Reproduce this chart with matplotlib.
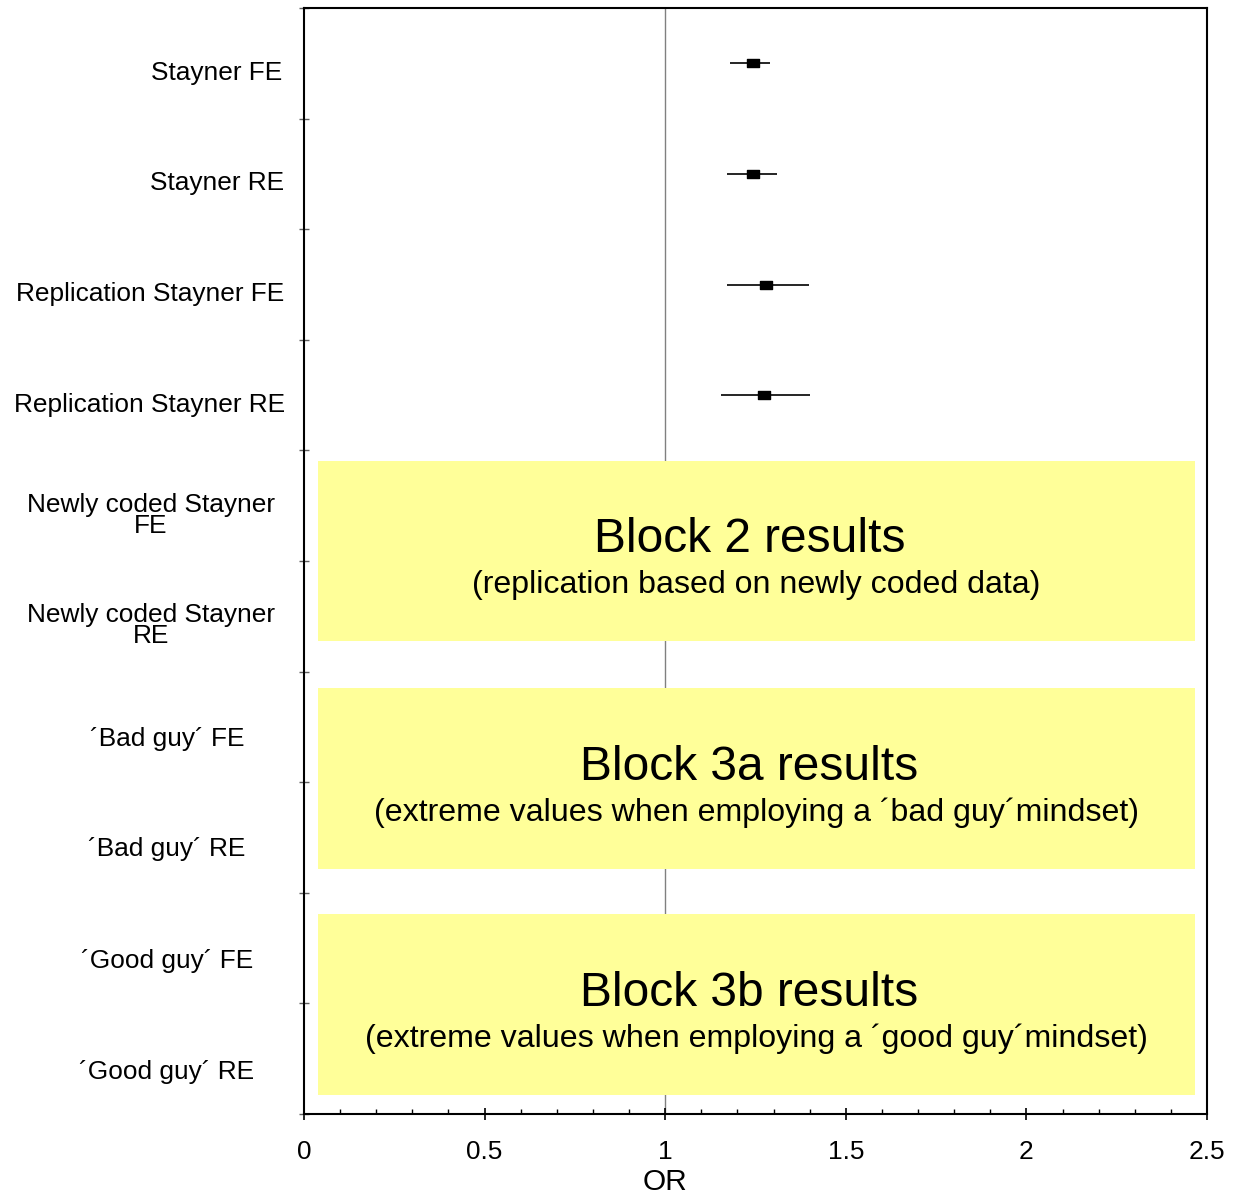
import matplotlib
matplotlib.use("Agg")
import matplotlib.pyplot as plt
from matplotlib.patches import Rectangle
from matplotlib.ticker import MultipleLocator
from matplotlib.path import Path

plt.rcParams['font.family'] = ['Liberation Sans', 'DejaVu Sans']

# ---- data ----
labels = ["Stayner FE", "Stayner RE", "Replication Stayner FE", "Replication Stayner RE",
          "Newly coded Stayner\nFE", "Newly coded Stayner\nRE",
          "\u00b4Bad guy\u00b4 FE", "\u00b4Bad guy\u00b4 RE",
          "\u00b4Good guy\u00b4 FE", "\u00b4Good guy\u00b4 RE"]
or_est = [1.242, 1.242, 1.279, 1.274]
ci_low = [1.179, 1.172, 1.172, 1.154]
ci_high = [1.290, 1.309, 1.397, 1.401]
block_titles = ["Block 2 results", "Block 3a results", "Block 3b results"]
block_subtitles = ["(replication based on newly coded data)",
                   "(extreme values when employing a \u00b4bad guy\u00b4mindset)",
                   "(extreme values when employing a \u00b4good guy\u00b4mindset)"]
xticks = [0, 0.5, 1, 1.5, 2, 2.5]

# ---- layout / style ----
label_x_axes = [-0.0963, -0.0963, -0.1705, -0.1705, -0.1694, -0.1694,
                -0.1517, -0.1517, -0.1517, -0.1517]
label_dy = [0.085, 0.08, 0.09, 0.09, 0.085, 0.085, 0.11, 0.105, 0.115, 0.118]
block_extents = [(4.596, 6.223), (6.648, 8.285), (8.692, 10.328)]

W, H = 1239, 1196
fig = plt.figure(figsize=(W / 100, H / 100), dpi=100)
ax = fig.add_axes([304 / W, 1 - 1114 / H, (1207 - 304) / W, (1114 - 8) / H])

n = len(labels)
rows = list(range(1, n + 1))
ax.set_xlim(0, 2.5)
ax.set_ylim(n + 0.5, 0.5)

# reference line at OR = 1
ax.axvline(1, color='#808080', lw=1.0, zorder=1)

# estimates
xerr = [[e - l for e, l in zip(or_est, ci_low)], [h - e for e, h in zip(or_est, ci_high)]]
rect_marker = Path([(-1.5, -1), (1.5, -1), (1.5, 1), (-1.5, 1), (-1.5, -1)],
                   [Path.MOVETO, Path.LINETO, Path.LINETO, Path.LINETO, Path.CLOSEPOLY])
ax.errorbar(or_est, rows[:len(or_est)], xerr=xerr, fmt='none', ecolor='black',
            elinewidth=1.2, capsize=0, zorder=3)
ax.plot(or_est, rows[:len(or_est)], linestyle='none', marker=rect_marker,
        markersize=9, color='black', zorder=4)

# yellow blocks
bx0, bx1 = 0.039, 2.467
for (top, bot), t, s in zip(block_extents, block_titles, block_subtitles):
    ax.add_patch(Rectangle((bx0, top), bx1 - bx0, bot - top, facecolor='#FFFF99',
                           edgecolor='none', zorder=2))
    mid = (top + bot) / 2
    ax.text(1.233, mid - 0.10, t, ha='center', va='center', fontsize=34.5, zorder=5)
    ax.text((bx0 + bx1) / 2, mid + 0.31, s, ha='center', va='center', fontsize=23.1, zorder=5)

# y labels
trans = ax.get_yaxis_transform()
for r, lab, lx, dy in zip(rows, labels, label_x_axes, label_dy):
    ax.text(lx, r + dy, lab, transform=trans, ha='center', va='center',
            fontsize=18.9, linespacing=0.85, multialignment='center')

# ticks
ax.set_yticks([r + 0.5 for r in range(0, n + 1)])
ax.set_yticklabels([])
ax.tick_params(axis='y', which='major', direction='inout', length=7, width=1,
               color='#606060')
ax.set_xticks(xticks)
ax.set_xticklabels([f"{v:g}" for v in xticks])
ax.xaxis.set_minor_locator(MultipleLocator(0.1))
ax.tick_params(axis='x', which='major', direction='inout', length=9, width=1.2,
               labelsize=18.9, pad=14)
ax.tick_params(axis='x', which='minor', direction='in', length=3.5, width=1)
ax.set_xlabel("OR", fontsize=21.5, labelpad=3)
ax.xaxis.label.set_x(1 / 2.5)

for sp in ax.spines.values():
    sp.set_linewidth(1.5)

fig.savefig("out.png", dpi=100)
